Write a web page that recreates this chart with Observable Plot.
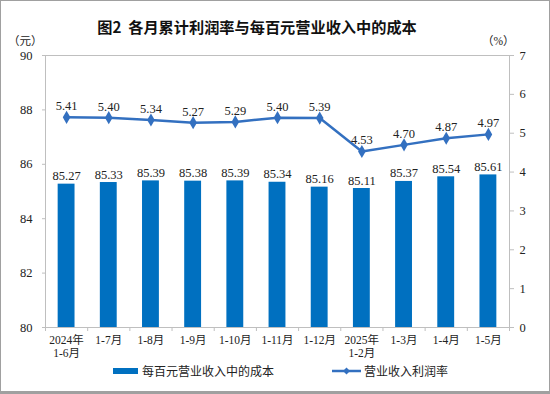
<!DOCTYPE html>
<html><head><meta charset="utf-8">
<script src="https://cdn.jsdelivr.net/npm/d3@7"></script>
<script src="https://cdn.jsdelivr.net/npm/@observablehq/plot@0.6"></script>
<style>
body{margin:0;background:#fff;}
#wrap{position:relative;width:550px;height:394px;overflow:hidden;background:#fff;font-family:"Liberation Serif","Noto Sans CJK SC",serif;color:#222;}
#frame{position:absolute;left:0;top:0;width:550px;height:394px;box-sizing:border-box;border:1px solid #a0a0a0;border-bottom:3px solid #a0a0a0;pointer-events:none;}
#title{position:absolute;top:15px;left:0;width:514px;text-align:center;font:bold 15.2px "Noto Sans CJK SC",sans-serif;color:#111;}
.unit{position:absolute;top:32px;font-size:11.5px;}
#chart{position:absolute;left:0;top:34px;}
#legend{position:absolute;left:0;top:362px;width:550px;height:28px;font-size:12px;}
.lg{position:absolute;top:0px;display:flex;align-items:center;height:18px;}
</style>
</head><body>
<div id="wrap">
  <div id="title">图2&nbsp; 各月累计利润率与每百元营业收入中的成本</div>
  <div class="unit" style="left:8px;">（元）</div>
  <div class="unit" style="left:482px;">（%）</div>
  <div id="chart"></div>
  <div id="legend">
    <div class="lg" style="left:113px;"><span style="display:inline-block;width:25px;height:6px;background:#0070c0;margin-right:4px;"></span><span>每百元营业收入中的成本</span></div>
    <div class="lg" style="left:332px;"><svg width="29" height="10" style="margin-right:3px;"><line x1="0" y1="5" x2="29" y2="5" stroke="#3370c0" stroke-width="2.5"/><path d="M14.5 1.5 L18 5 L14.5 8.5 L11 5Z" fill="#3370c0"/></svg><span>营业收入利润率</span></div>
  </div>
  <div id="frame"></div>
</div>
<script>
const categories = ["2024年\n1-6月","1-7月","1-8月","1-9月","1-10月","1-11月","1-12月","2025年\n1-2月","1-3月","1-4月","1-5月"];
const costPer100 = [85.27,85.33,85.39,85.38,85.39,85.34,85.16,85.11,85.37,85.54,85.61];
const profitRate = [5.41,5.40,5.34,5.27,5.29,5.40,5.39,4.53,4.70,4.87,4.97];
const leftTicks = [80,82,84,86,88,90];
const rightTicks = [0,1,2,3,4,5,6,7];

const rows = categories.map((c,i)=>({i, cat:c, cost:costPer100[i], rate:profitRate[i]}));
const toY = r => 80 + r*10/7;
const barColor = "#0070c0", lineColor = "#3370c0", axisGray = "#bfbfbf";

const chart = Plot.plot({
  width: 550, height: 328,
  marginTop: 21, marginBottom: 35, marginLeft: 45, marginRight: 41,
  style: {fontFamily: '"Liberation Serif","Noto Sans CJK SC",serif', color: "#222", background: "transparent"},
  x: {type: "linear", domain: [0, categories.length], axis: null},
  y: {domain: [80, 90], axis: null},
  marks: [
    Plot.frame({stroke: axisGray}),
    Plot.rectY(rows, {x1: d=>d.i+0.3, x2: d=>d.i+0.7, y1: 80, y2: "cost", fill: barColor}),
    Plot.axisY(leftTicks, {anchor: "left", tickSize: 3, tickPadding: 10, fontSize: 12.5, label: null, stroke: axisGray}),
    Plot.axisY(rightTicks.map(toY), {anchor: "right", tickSize: 4, tickPadding: 6, fontSize: 12.5, label: null, stroke: axisGray,
      tickFormat: v => String(Math.round((v-80)*0.7))}),
    Plot.axisX(d3.range(0, categories.length+1), {anchor: "bottom", tickSize: 4, tickFormat: () => "", label: null, stroke: axisGray}),
    Plot.axisX(rows.map(d=>d.i+0.5), {anchor: "bottom", tickSize: 0, tickPadding: 7, fontSize: 11.5, label: null,
      tickFormat: v => categories[Math.floor(v)], lineHeight: 1.15}),
    Plot.text(rows, {x: d=>d.i+0.5, y: "cost", text: d=>d.cost.toFixed(2), dy: -4, lineAnchor: "bottom", fontSize: 12.5, fill: "#222"}),
    Plot.line(rows, {x: d=>d.i+0.5, y: d=>toY(d.rate), stroke: lineColor, strokeWidth: 2.5}),
    Plot.dot(rows, {x: d=>d.i+0.5, y: d=>toY(d.rate), symbol: "diamond", r: 4, fill: lineColor, stroke: "none"}),
    Plot.text(rows, {x: d=>d.i+0.5, y: d=>toY(d.rate), text: d=>d.rate.toFixed(2), dy: -7, lineAnchor: "bottom", fontSize: 12.5, fill: "#222"})
  ]
});
document.getElementById("chart").appendChild(chart);
</script>
</body></html>
